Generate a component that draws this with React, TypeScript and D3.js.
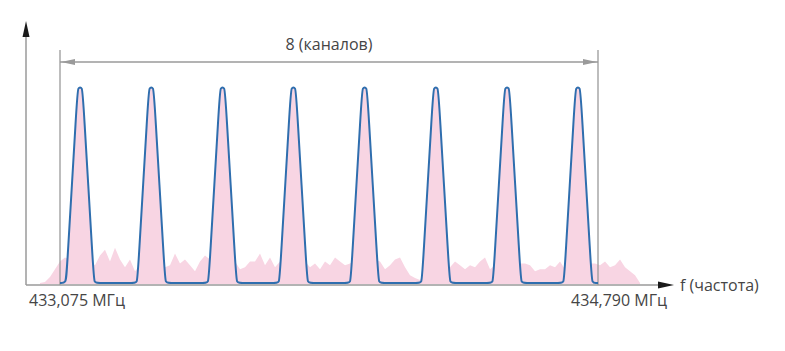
import React from "react";
import * as d3 from "d3";

// ---- data ----
const freqStart = 433.075; // MHz
const freqEnd = 434.79; // MHz
const startLabel = "433,075 МГц";
const endLabel = "434,790 МГц";
const axisLabel = "f (частота)";
const bracketLabel = "8 (каналов)";
const channelCenters = [433.139, 433.366, 433.593, 433.819, 434.046, 434.273, 434.5, 434.726];
const channelPeak = [100, 100, 100, 100, 100, 100, 100, 100];
// background noise levels sampled every noiseStep MHz from noiseStart
const noiseStart = 433.0112;
const noiseStep = 0.01594;
const noiseLevels = [
  0, 0.5, 3, 7, 11, 13, 12, 14, 12, 13, 11, 9, 14, 17, 11, 18, 12, 8, 12, 6,
  9, 10, 9, 11, 10, 8, 9, 15, 10, 12, 9, 6, 11, 14, 12, 10, 11, 10, 9, 11,
  7, 8, 11, 11, 15, 9, 13, 8, 11, 10, 12, 9, 10, 11, 8, 10, 7, 11, 9, 13,
  11, 9, 10, 12, 9, 11, 10, 12, 11, 7, 9, 12, 13, 8, 4, 2.5, 1.5, 6, 9, 10,
  9, 10, 8, 11, 9, 7, 9, 8, 11, 13, 7, 9, 11, 10, 12, 9, 10, 10, 9, 6,
  7, 7, 9, 8, 11, 7, 10, 12, 9, 11, 10, 10, 9, 11, 8, 9, 12, 8, 6, 4, 0,
];

// channel shape (MHz)
const baseHalf = 0.0446;
const topHalf = 0.0075;
const cornerFlat = 0.014;

const W = 785;
const H = 351;
const FONT = "'Open Sans', 'Noto Sans', sans-serif";

export default function App() {
  const x = d3.scaleLinear().domain([freqStart, freqEnd]).range([60, 598]);
  const y = d3.scaleLinear().domain([0, 100]).range([283, 87]);

  const lerp = (a: [number, number], b: [number, number], t: number): [number, number] => [
    a[0] + (b[0] - a[0]) * t,
    a[1] + (b[1] - a[1]) * t,
  ];

  const pts: [number, number][] = [[freqStart, 0]];
  channelCenters.forEach((c, i) => {
    const h = channelPeak[i];
    const BL: [number, number] = [c - baseHalf, 0];
    const TL: [number, number] = [c - topHalf, h];
    const TR: [number, number] = [c + topHalf, h];
    const BR: [number, number] = [c + baseHalf, 0];
    if (i > 0) pts.push([c - baseHalf - cornerFlat, 0]);
    pts.push(BL, lerp(BL, TL, 0.05), lerp(BL, TL, 0.95), TL, TR, lerp(TR, BR, 0.05), lerp(TR, BR, 0.95), BR);
    pts.push([c + baseHalf + cornerFlat, 0]);
  });
  pts.push([freqEnd, 0]);

  const line = d3
    .line<[number, number]>()
    .x((d) => x(d[0]))
    .y((d) => y(d[1]))
    .curve(d3.curveBasis);
  const peakArea = d3
    .area<[number, number]>()
    .x((d) => x(d[0]))
    .y0(y(0))
    .y1((d) => y(d[1]))
    .curve(d3.curveBasis);

  const noise: [number, number][] = noiseLevels.map((v, i) => [noiseStart + i * noiseStep, v]);
  const noiseArea = d3
    .area<[number, number]>()
    .x((d) => x(d[0]))
    .y0(y(0) + 1)
    .y1((d) => y(d[1]));

  const axisY = 285;
  const axisX = 26;
  const pink = "#f8d5e3";
  const blue = "#2f6eae";
  const gray = "#9a9a9a";
  const textColor = "#454545";
  const bracketY = 62;

  return (
    <svg width={W} height={H} style={{ position: "absolute", left: 0, top: 0, background: "#fff" }}>
      <path d={noiseArea(noise) || ""} fill={pink} />
      <path d={peakArea(pts) || ""} fill={pink} />

      {/* axes */}
      <line x1={axisX} y1={axisY} x2={662} y2={axisY} stroke={gray} strokeWidth={1.5} />
      <line x1={axisX} y1={axisY} x2={axisX} y2={30} stroke={gray} strokeWidth={1.5} />
      <path d={`M674,${axisY} L658,${axisY - 3.5} L658,${axisY + 3.5} Z`} fill="#1a1a1a" />
      <path d={`M${axisX},21 L${axisX - 3.5},37 L${axisX + 3.5},37 Z`} fill="#1a1a1a" />

      {/* bracket */}
      <line x1={x(freqStart)} y1={50} x2={x(freqStart)} y2={axisY} stroke={gray} strokeWidth={1.3} />
      <line x1={x(freqEnd)} y1={50} x2={x(freqEnd)} y2={axisY} stroke={gray} strokeWidth={1.3} />
      <line x1={x(freqStart)} y1={bracketY} x2={x(freqEnd)} y2={bracketY} stroke={gray} strokeWidth={1.5} />
      <path
        d={`M${x(freqStart) + 1},${bracketY} L${x(freqStart) + 15},${bracketY - 3} L${x(freqStart) + 15},${bracketY + 3} Z`}
        fill={gray}
      />
      <path
        d={`M${x(freqEnd) - 1},${bracketY} L${x(freqEnd) - 15},${bracketY - 3} L${x(freqEnd) - 15},${bracketY + 3} Z`}
        fill={gray}
      />

      <path d={line(pts) || ""} fill="none" stroke={blue} strokeWidth={2} strokeLinejoin="round" />

      {/* text */}
      <text x={(x(freqStart) + x(freqEnd)) / 2} y={50} textAnchor="middle" fontFamily={FONT} fontSize={16} fill={textColor}>
        {bracketLabel}
      </text>
      <text x={29} y={306} fontFamily={FONT} fontSize={16} fill={textColor}>
        {startLabel}
      </text>
      <text x={667} y={306} textAnchor="end" fontFamily={FONT} fontSize={16} fill={textColor}>
        {endLabel}
      </text>
      <text x={680} y={291} fontFamily={FONT} fontSize={16} fill={textColor}>
        {axisLabel}
      </text>
    </svg>
  );
}
